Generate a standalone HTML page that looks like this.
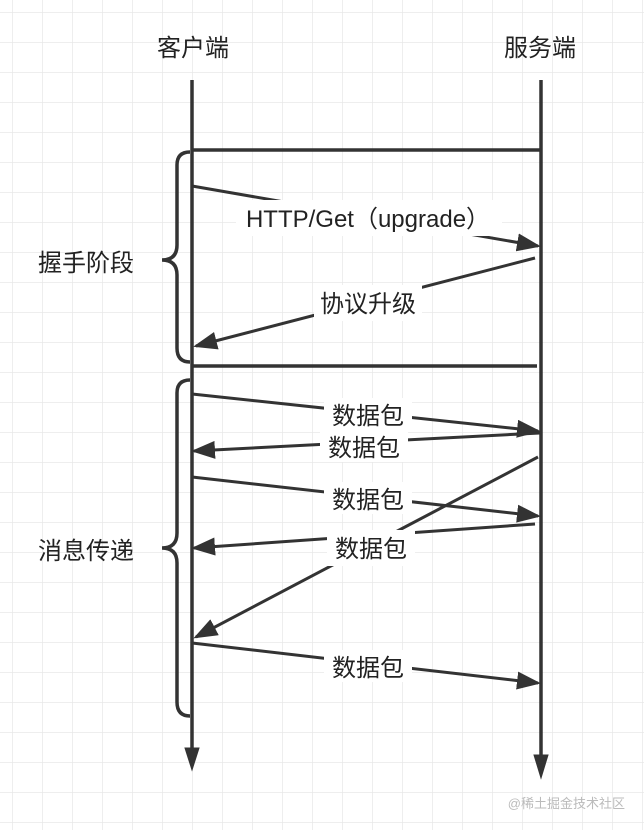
<!DOCTYPE html>
<html><head><meta charset="utf-8"><style>
html,body{margin:0;padding:0;background:#fff}
svg{display:block}
text{font-family:"Liberation Sans","Noto Sans CJK SC",sans-serif;fill:#222}
</style></head><body>
<svg width="644" height="830" viewBox="0 0 644 830" xmlns="http://www.w3.org/2000/svg">
<defs>
<pattern id="g" x="12" y="12" width="30" height="30" patternUnits="userSpaceOnUse">
<path d="M0 0H30M0 0V30" stroke="#e8e8e8" stroke-width="1.5" fill="none"/>
</pattern>
<marker id="a" markerWidth="8" markerHeight="6" refX="7" refY="3" orient="auto" markerUnits="strokeWidth">
<path d="M0,0 L8,3 L0,6 Z" fill="#333"/>
</marker>
</defs>
<rect width="644" height="830" fill="url(#g)"/>
<g stroke="#333" stroke-width="3.5" fill="none">
<line x1="192" y1="80" x2="192" y2="748"/>
<line x1="541" y1="80" x2="541" y2="755"/>
<line x1="192" y1="150" x2="540" y2="150"/>
<line x1="192" y1="366" x2="537" y2="366"/>
<path d="M190 152 Q177 152 177 165 V245 Q177 260 162 260 Q177 260 177 275 V348 Q177 362 190 362"/>
<path d="M190 380 Q177 380 177 393 V533 Q177 548 162 548 Q177 548 177 563 V702 Q177 716 190 716"/>
</g>
<g stroke="#333" stroke-width="3.5" fill="#333">
<path d="M192 748 L185 748 L192 770 L199 748 Z" stroke-width="1"/>
<path d="M541 755 L534 755 L541 778 L548 755 Z" stroke-width="1"/>
</g>
<g stroke="#333" stroke-width="3" fill="none" marker-end="url(#a)">
<line x1="192" y1="186" x2="538" y2="246"/>
<line x1="535" y1="258" x2="196" y2="346"/>
<line x1="192" y1="394" x2="538" y2="431"/>
<line x1="540" y1="433" x2="194" y2="451"/>
<line x1="192" y1="477" x2="538" y2="516"/>
<line x1="535" y1="524" x2="194" y2="548"/>
<line x1="538" y1="457" x2="196" y2="637"/>
<line x1="192" y1="643" x2="538" y2="683"/>
</g>
<g fill="#fff">
<rect x="236" y="200" width="266" height="36"/>
<rect x="314" y="285" width="108" height="36"/>
<rect x="324" y="398" width="88" height="32"/>
<rect x="320" y="430" width="88" height="32"/>
<rect x="324" y="482" width="88" height="32"/>
<rect x="327" y="530" width="88" height="36"/>
<rect x="324" y="650" width="88" height="32"/>
</g>
<g font-size="24">
<text x="193" y="56" text-anchor="middle">客户端</text>
<text x="540" y="56" text-anchor="middle">服务端</text>
<text x="38" y="271">握手阶段</text>
<text x="38" y="559">消息传递</text>
<text x="368" y="227" text-anchor="middle">HTTP/Get（upgrade）</text>
<text x="368" y="312" text-anchor="middle">协议升级</text>
<text x="368" y="424" text-anchor="middle">数据包</text>
<text x="364" y="456" text-anchor="middle">数据包</text>
<text x="368" y="508" text-anchor="middle">数据包</text>
<text x="371" y="557" text-anchor="middle">数据包</text>
<text x="368" y="676" text-anchor="middle">数据包</text>
</g>
<text x="625" y="808" text-anchor="end" font-size="13" style="fill:#bbb">@稀土掘金技术社区</text>
</svg>
</body></html>
